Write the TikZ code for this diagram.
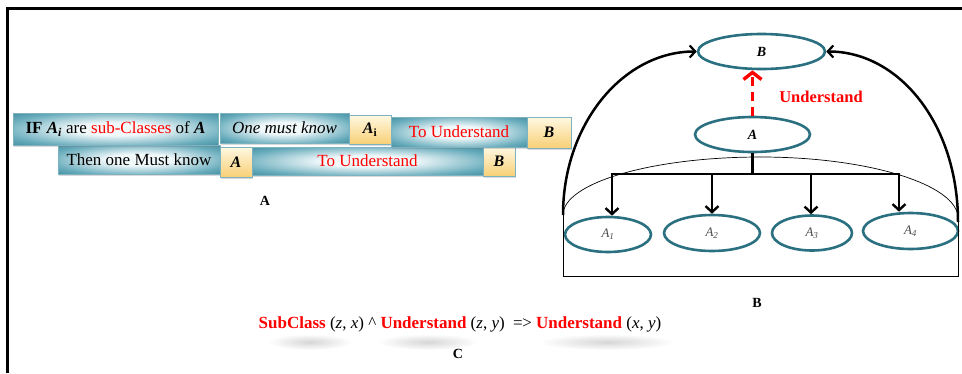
\documentclass[tikz,border=0pt]{standalone}
\usepackage{fontspec}
\setmainfont{Liberation Serif}
\usetikzlibrary{shapes.geometric,arrows.meta,shadows}
\definecolor{tealD}{RGB}{32,114,134}
\definecolor{tealM}{RGB}{104,172,188}
\definecolor{tealL}{RGB}{240,248,250}
\definecolor{tealE}{RGB}{125,178,192}
\definecolor{ylwT}{RGB}{255,248,226}
\definecolor{ylwB}{RGB}{248,208,118}
\definecolor{ellC}{RGB}{42,112,128}
\pgfdeclareradialshading{tealrad}{\pgfpoint{0bp}{0bp}}{color(0bp)=(tealL);color(10bp)=(tealL);color(28bp)=(tealM);color(44bp)=(tealD);color(72bp)=(tealD)}
\newcommand{\myfs}[1]{\fontsize{#1}{#1}\selectfont}
\begin{document}
\begin{tikzpicture}[x=1pt,y=-1pt,
  tbox/.style={rectangle, inner sep=0pt, draw=tealE, line width=0.6pt,
    shading=tealrad,
    drop shadow={shadow xshift=1pt,shadow yshift=-2pt,opacity=0.3},
    font=\myfs{17}},
  ybox/.style={rectangle, inner sep=0pt, draw=tealE, line width=0.6pt,
    top color=ylwT, bottom color=ylwB,
    drop shadow={shadow xshift=1pt,shadow yshift=-2pt,opacity=0.3},
    font=\myfs{16}\bfseries\itshape},
  ell/.style={ellipse, draw=ellC, line width=2.6pt, inner sep=0pt,
    font=\myfs{14}\bfseries\itshape},
  subell/.style={ellipse, draw=ellC, line width=2.6pt, inner sep=0pt,
    font=\myfs{13}\itshape, text=black!70},
  bigarc/.style={line width=2.5pt, -{Straight Barb[length=5.5pt,width=12pt,line width=2.2pt]}},
  treeline/.style={line width=2.5pt},
  treearrow/.style={line width=2.5pt, -{Straight Barb[length=6pt,width=13pt,line width=2.4pt]}},
  redarrow/.style={draw=red, line width=3.8pt, dash pattern=on 9pt off 6pt,
    -{Straight Barb[length=7pt,width=18pt,line width=3.4pt]}},
  lbl/.style={font=\myfs{14}\bfseries},
  thinline/.style={line width=0.7pt}
]
\useasboundingbox (0,0) rectangle (962,373);
% frame
\draw[line width=2.5pt] (7.5,373) -- (7.5,8.5) -- (962,8.5);

% ---------- panel A ----------
\node[tbox, minimum width=162pt, minimum height=29pt] (r2a) at (139,159.5) {Then one Must know};
\node[ybox, minimum width=32pt, minimum height=30pt] (r2b) at (236,162) {A};
\node[tbox, minimum width=231pt, minimum height=28pt, text=red] (r2c) at (367.5,161) {To Understand};
\node[ybox, minimum width=32pt, minimum height=29pt] (r2d) at (499,161.5) {B};

\node[tbox, minimum width=205pt, minimum height=32pt] (r1a) at (115.5,129)
  {\textbf{IF} \textbf{\textit{A}}\textsubscript{\textbf{\textit{i}}} are \textcolor{red}{sub-Classes} of \textbf{\textit{A}}};
\node[tbox, minimum width=129pt, minimum height=30pt, font=\myfs{17}\itshape] (r1b) at (284.5,128) {One must know};
\node[ybox, minimum width=42pt, minimum height=29pt] (r1c) at (370,129.5) {A\textsubscript{\upshape i}};
\node[tbox, minimum width=136pt, minimum height=30pt, text=red] (r1d) at (459,132) {To Understand};
\node[ybox, minimum width=44pt, minimum height=31pt] (r1e) at (549,132.5) {B};

\node[lbl] (la) at (265,201) {A};

% ---------- panel B ----------
\node[ell, minimum width=127pt, minimum height=35pt] (B) at (761.5,51.5) {B};
\node[ell, minimum width=115pt, minimum height=35pt] (A) at (752.5,134.5) {A};
\node[subell, minimum width=86pt, minimum height=35pt] (A1) at (608,234.5) {A\textsubscript{1}};
\node[subell, minimum width=96pt, minimum height=36pt] (A2) at (712,233) {A\textsubscript{2}};
\node[subell, minimum width=80pt, minimum height=35pt] (A3) at (812,233) {A\textsubscript{3}};
\node[subell, minimum width=95pt, minimum height=36pt] (A4) at (910.5,231) {A\textsubscript{4}};

\node[font=\myfs{16.5}\bfseries, text=red] (und) at (821,97) {Understand};
\draw[redarrow] (A.north) -- (A.north |- B.south);

% dome
\coordinate (dl) at (563,215);
\coordinate (dr) at (958,218);
\coordinate (dt) at (760.5,157);
\draw[thinline] (dl) .. controls (563,183) and (651.4,157) .. (dt)
  .. controls (869.6,157) and (958,185) .. (dr);
\draw[thinline] (dl) -- (563,276) -- (958,276) -- (dr);

\draw[bigarc] (dl) .. controls (563,124) and (623,51.5) .. (B.west);
\draw[bigarc] ([yshift=-4pt]dr) .. controls (958,124) and (899,51.5) .. (B.east);

% tree
\coordinate (j) at (752.5,174);
\draw[treeline] (A.south) -- (j);
\draw[treearrow] (j) -| ([xshift=4pt]A1.north);
\draw[treearrow] (j) -| (A2.north);
\draw[treearrow] (j) -| ([xshift=-1pt]A3.north);
\draw[treearrow] (j) -| ([xshift=-11.5pt]A4.north);

\node[lbl] (lb) at (757,303) {B};

% ---------- panel C ----------
\shade[inner color=black!16, outer color=white] (310,342) ellipse [x radius=42pt, y radius=8pt];
\shade[inner color=black!16, outer color=white] (428,342) ellipse [x radius=50pt, y radius=8pt];
\shade[inner color=black!16, outer color=white] (607,342) ellipse [x radius=68pt, y radius=8pt];
\node[font=\myfs{17}] (frm) at (460,324)
  {\textcolor{red}{\textbf{SubClass}} (\textit{z}, \textit{x}) \textasciicircum{} \textcolor{red}{\textbf{Understand}} (\textit{z}, \textit{y})\ \ =\kern-0.5pt> \textcolor{red}{\textbf{Understand}} (\textit{x}, \textit{y})};
\node[lbl] (lc) at (458,354) {C};
\end{tikzpicture}
\end{document}
